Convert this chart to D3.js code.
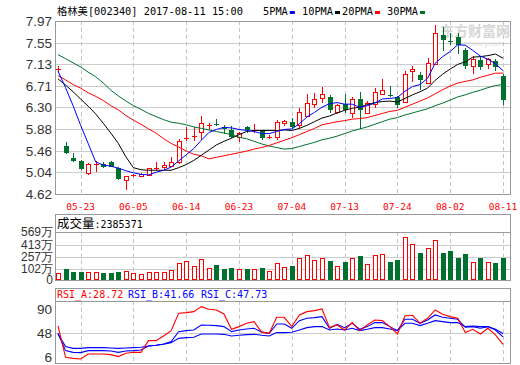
<!DOCTYPE html>
<html>
<head>
<meta charset="utf-8">
<script src="https://cdn.jsdelivr.net/npm/d3@7"></script>
<style>
  body { margin: 0; background: #fff; }
  svg { display: block; }
</style>
</head>
<body>
<svg id="chart" width="520" height="365"></svg>
<script>
// trading days shown (2017)
const dates = ["05-18","05-19","05-22","05-23","05-24","05-25","05-26","05-31","06-01","06-02",
  "06-05","06-06","06-07","06-08","06-09","06-12","06-13","06-14","06-15","06-16",
  "06-19","06-20","06-21","06-22","06-23","06-26","06-27","06-28","06-29","06-30",
  "07-03","07-04","07-05","07-06","07-07","07-10","07-11","07-12","07-13","07-14",
  "07-17","07-18","07-19","07-20","07-21","07-24","07-25","07-26","07-27","07-28",
  "07-31","08-01","08-02","08-03","08-04","08-07","08-08","08-09","08-10","08-11"];
const dateTicks = ["05-23","06-05","06-14","06-23","07-04","07-13","07-24","08-02","08-11"];

const open  = [7.02,5.55,5.32,5.26,5.03,5.19,5.20,5.24,5.13,4.89, 4.97,4.96,4.98,5.11,5.14,5.17,5.23,5.68,5.72,5.83,
               5.95,5.97,5.92,5.86,5.72,5.91,5.85,5.85,5.72,5.73, 5.99,6.01,5.96,6.14,6.36,6.47,6.50,6.21,6.37,6.18,
               6.45,6.18,6.37,6.55,6.54,6.50,6.40,7.00,6.92,6.76, 7.13,7.69,7.59,7.66,7.41,7.09,7.22,7.13,7.20,6.91];
const high  = [7.10,5.63,5.41,5.28,5.22,5.25,5.23,5.26,5.15,4.97, 5.01,5.03,5.13,5.24,5.23,5.33,5.69,5.91,5.91,6.13,
               6.00,6.07,5.95,5.94,5.83,5.94,5.98,5.86,5.76,6.05, 6.05,6.09,6.28,6.55,6.58,6.69,6.54,6.37,6.55,6.50,
               6.60,6.42,6.68,6.84,6.71,6.52,7.00,7.09,6.99,7.26, 7.89,7.85,7.74,7.74,7.45,7.29,7.29,7.26,7.23,6.94];
const low   = [6.96,5.40,5.23,5.09,4.99,5.05,5.13,5.14,4.90,4.69, 4.94,4.94,4.97,5.08,5.11,5.15,5.21,5.64,5.65,5.67,
               5.85,5.94,5.78,5.70,5.63,5.80,5.81,5.67,5.69,5.67, 5.94,5.89,5.87,6.13,6.28,6.39,6.18,6.16,6.18,6.10,
               5.87,6.16,6.29,6.54,6.50,6.28,6.39,6.79,6.63,6.76, 7.12,7.39,7.51,7.33,7.04,6.94,7.02,7.04,7.00,6.34];
const close = [7.04,5.42,5.25,5.10,5.21,5.20,5.14,5.15,4.91,4.96, 4.98,5.00,5.12,5.13,5.19,5.24,5.65,5.70,5.74,6.00,
               5.96,5.95,5.88,5.72,5.81,5.86,5.86,5.70,5.73,6.02, 6.04,5.92,6.21,6.39,6.45,6.55,6.24,6.34,6.24,6.45,
               6.24,6.38,6.60,6.63,6.52,6.34,6.95,7.05,6.83,7.15, 7.74,7.60,7.57,7.51,7.09,7.23,7.07,7.24,7.07,6.44];

// volume, in 万 shares
const volume = [47,101,68,68,64,64,51,51,68,76, 51,34,64,64,64,84,174,200,136,225,
                110,153,101,114,97,97,97,110,76,174, 123,136,238,276,212,238,204,136,191,238,
                268,161,276,289,191,217,505,416,306,365, 467,306,327,242,293,187,242,191,178,238.5];
const lastVolume = 2385371;

const ma5  = [7.00,6.68,6.33,5.95,5.60,5.24,5.18,5.16,5.12,5.07, 5.03,5.00,4.99,5.04,5.08,5.14,5.26,5.38,5.50,5.66,
              5.81,5.87,5.91,5.90,5.87,5.85,5.83,5.79,5.79,5.83, 5.87,5.88,5.98,6.11,6.20,6.30,6.37,6.39,6.36,6.36,
              6.30,6.33,6.38,6.46,6.47,6.49,6.61,6.70,6.74,6.86, 7.15,7.28,7.38,7.51,7.50,7.40,7.29,7.23,7.14,7.01];
const ma10 = [6.85,6.73,6.60,6.46,6.32,6.17,5.99,5.80,5.60,5.34, 5.13,5.09,5.08,5.08,5.08,5.08,5.13,5.19,5.27,5.37,
              5.47,5.57,5.64,5.70,5.77,5.83,5.85,5.85,5.85,5.85, 5.86,5.85,5.89,5.95,6.02,6.09,6.13,6.19,6.24,6.28,
              6.30,6.35,6.39,6.41,6.42,6.40,6.47,6.54,6.60,6.67, 6.82,6.94,7.04,7.13,7.18,7.27,7.28,7.30,7.33,7.25];
const ma20 = [6.91,6.83,6.74,6.67,6.58,6.51,6.43,6.33,6.25,6.14, 6.05,5.97,5.88,5.80,5.69,5.60,5.53,5.45,5.39,5.36,
              5.30,5.33,5.36,5.39,5.42,5.45,5.49,5.52,5.56,5.61, 5.66,5.71,5.77,5.83,5.89,5.96,5.99,6.02,6.04,6.07,
              6.08,6.10,6.14,6.18,6.22,6.24,6.30,6.36,6.42,6.48, 6.56,6.64,6.71,6.77,6.80,6.83,6.88,6.92,6.96,6.96];
const ma30 = [7.32,7.24,7.16,7.08,6.98,6.89,6.77,6.63,6.52,6.42, 6.33,6.26,6.18,6.12,6.06,6.01,5.99,5.96,5.92,5.89,
              5.86,5.83,5.80,5.77,5.72,5.69,5.64,5.59,5.55,5.52, 5.49,5.50,5.54,5.58,5.62,5.67,5.70,5.74,5.79,5.84,
              5.88,5.92,5.97,6.02,6.07,6.10,6.15,6.19,6.23,6.27, 6.33,6.38,6.44,6.50,6.54,6.59,6.63,6.68,6.72,6.74];

const rsiA = [60.8,6.0,4.2,3.1,11.8,11.8,11.8,10.7,7.2,13.0, 14.7,14.7,35.2,35.2,43.3,52.7,83.0,84.2,85.9,94.7,
              90.0,88.8,81.8,55.0,59.7,65.5,68.4,50.0,48.0,76.0, 76.0,59.7,80.1,85.9,87.7,90.6,57.9,62.6,53.8,66.7,
              52.7,62.6,71.3,70.2,59.7,46.8,78.3,79.5,65.5,74.3, 88.8,81.3,77.2,74.3,49.2,55.0,46.8,56.8,45.1,28.72];
const rsiB = [48.0,17.7,14.7,14.2,17.7,17.7,17.7,17.1,14.7,17.1, 17.7,18.8,25.8,27.0,29.3,33.4,50.9,52.7,53.8,62.6,
              62.0,61.4,59.7,50.9,53.8,55.6,56.8,50.0,48.0,64.3, 64.3,56.8,70.2,74.3,75.4,77.2,56.8,63.8,57.9,65.5,
              55.0,59.7,66.7,66.7,59.7,52.7,72.5,72.5,65.5,71.3, 80.1,76.0,74.3,72.5,58.5,59.7,56.8,59.7,53.8,41.66];
const rsiC = [47.0,24.7,21.7,21.7,22.9,22.9,22.9,22.3,21.7,22.3, 22.9,23.5,25.8,27.0,28.7,31.7,39.2,40.4,41.0,46.8,
              46.8,46.8,46.2,43.3,44.5,45.7,46.2,44.5,43.3,49.2, 49.2,49.8,53.8,57.9,59.7,59.7,53.8,55.6,53.8,56.8,
              52.7,55.0,57.9,57.9,55.6,52.7,65.5,65.5,61.4,65.5, 70.2,68.4,66.7,66.7,59.7,60.8,59.7,59.7,55.0,47.73];

const priceTicks = [7.97,7.55,7.13,6.71,6.30,5.88,5.46,5.04,4.62];
const volTicks = [0,102,257,413,569];
const rsiTicks = [6,48,90];

const RED = "#ff0000", GREEN = "#00702f", BLUE = "#0000ff";
const MONO = "'DejaVu Sans Mono','Noto Sans CJK SC',monospace";
const SANS = "'Liberation Sans',Arial,sans-serif";

const svg = d3.select("#chart");
const L = 56, R = 510;
const main = {top: 21, bottom: 194};
const vol = {top: 214, head: 232.3, bottom: 280};
const rsi = {top: 288, head: 301, bottom: 363};

const x = d3.scalePoint().domain(dates).range([58, 503]);
const yP = d3.scaleLinear().domain([4.62, 7.97]).range([main.bottom, main.top]);
const yV = d3.scaleLinear().domain([0, 569]).range([277, vol.head]);
const yR = d3.scaleLinear().domain([6, 90]).range([357.3, 309.3]);

const px = v => Math.round(v) + 0.5;

// ---- grids ----
function vGrid(y0, y1) {
  svg.append("g").selectAll("line").data(dateTicks).join("line")
    .attr("x1", d => px(x(d))).attr("x2", d => px(x(d)))
    .attr("y1", y0).attr("y2", y1)
    .attr("stroke", "#c4c4c4").attr("stroke-dasharray", "4,3");
}
function hGrid(vals, scale) {
  svg.append("g").selectAll("line").data(vals).join("line")
    .attr("x1", L).attr("x2", R)
    .attr("y1", d => px(scale(d))).attr("y2", d => px(scale(d)))
    .attr("stroke", "#cccccc");
}
hGrid(priceTicks.slice(1, -1), yP);
vGrid(main.top, main.bottom);
hGrid(volTicks.slice(1, -1), yV);
vGrid(vol.head, vol.bottom);
hGrid([48], yR);
vGrid(rsi.head, rsi.bottom);

// ---- watermark ----
svg.append("text").attr("x", 440).attr("y", 36)
  .attr("font-family", "'Noto Sans CJK SC'").attr("font-size", 14).attr("font-weight", "bold")
  .attr("fill", "#d6d6d6").text("东方财富网");
svg.append("text").attr("x", 454).attr("y", 46)
  .attr("font-family", SANS).attr("font-size", 7).attr("font-style", "italic")
  .attr("fill", "#dddddd").text("eastmoney.com");

// ---- candles ----
const cands = dates.map((d, i) => ({d, o: open[i], h: high[i], l: low[i], c: close[i], v: volume[i], up: close[i] >= open[i]}));

const cg = svg.append("g");
cands.forEach(k => {
  const cx = Math.round(x(k.d));
  const col = k.up ? RED : GREEN;
  const yTop = Math.round(yP(Math.max(k.o, k.c)));
  const yBot = Math.round(yP(Math.min(k.o, k.c)));
  const yH = Math.round(yP(k.h)), yL = Math.round(yP(k.l));
  if (k.up) {
    if (yBot - yTop < 2) {
      cg.append("line").attr("x1", cx + 0.5).attr("x2", cx + 0.5).attr("y1", yH).attr("y2", yL).attr("stroke", col);
      cg.append("line").attr("x1", cx - 2).attr("x2", cx + 3).attr("y1", yTop + 0.5).attr("y2", yTop + 0.5).attr("stroke", col);
    } else {
      cg.append("line").attr("x1", cx + 0.5).attr("x2", cx + 0.5).attr("y1", yH).attr("y2", yTop).attr("stroke", col);
      cg.append("line").attr("x1", cx + 0.5).attr("x2", cx + 0.5).attr("y1", yBot).attr("y2", yL).attr("stroke", col);
      cg.append("rect").attr("x", cx - 1.5).attr("y", yTop + 0.5).attr("width", 4).attr("height", yBot - yTop)
        .attr("fill", "#fff").attr("stroke", col);
    }
  } else {
    cg.append("line").attr("x1", cx + 0.5).attr("x2", cx + 0.5).attr("y1", yH).attr("y2", yL).attr("stroke", col);
    cg.append("rect").attr("x", cx - 2).attr("y", yTop).attr("width", 5).attr("height", Math.max(yBot - yTop, 1))
      .attr("fill", col);
  }
});

// ---- moving averages ----
const maLine = d3.line().x((d, i) => x(dates[i])).y(d => yP(d));
[[ma30, GREEN], [ma20, RED], [ma10, "#000"], [ma5, BLUE]].forEach(([s, c]) => {
  svg.append("path").attr("d", maLine(s)).attr("fill", "none").attr("stroke", c).attr("stroke-width", 1);
});

// ---- volume bars ----
const vg = svg.append("g");
cands.forEach(k => {
  const cx = Math.round(x(k.d));
  const yt = Math.round(yV(k.v));
  if (k.up) {
    vg.append("rect").attr("x", cx - 1.5).attr("y", yt + 0.5).attr("width", 4).attr("height", vol.bottom - yt - 1)
      .attr("fill", "#fff").attr("stroke", RED);
  } else {
    vg.append("rect").attr("x", cx - 2).attr("y", yt).attr("width", 5).attr("height", vol.bottom - yt).attr("fill", GREEN);
  }
});

// ---- RSI lines ----
const rLine = d3.line().x((d, i) => x(dates[i])).y(d => yR(d));
[[rsiC, BLUE], [rsiB, BLUE], [rsiA, RED]].forEach(([s, c]) => {
  svg.append("path").attr("d", rLine(s)).attr("fill", "none").attr("stroke", c).attr("stroke-width", 1.1);
});

// ---- frames ----
function frame(t, b) {
  svg.append("rect").attr("x", L - 0.5).attr("y", t + 0.5).attr("width", R - L + 1).attr("height", b - t)
    .attr("fill", "none").attr("stroke", "#999");
}
frame(main.top, main.bottom);
frame(vol.top, vol.bottom);
frame(rsi.top, rsi.bottom);
[vol.head, rsi.head].forEach(h => svg.append("line").attr("x1", L).attr("x2", R)
  .attr("y1", px(h)).attr("y2", px(h)).attr("stroke", "#999"));

// ---- axis labels ----
svg.append("g").selectAll("text").data(priceTicks).join("text")
  .attr("x", 52).attr("y", d => yP(d) + 5).attr("text-anchor", "end")
  .attr("font-family", SANS).attr("font-size", 13.5).attr("fill", "#333")
  .text(d => d.toFixed(2));

// "0" sits on the panel floor, the others on their grid lines
svg.append("g").selectAll("text").data(volTicks).join("text")
  .attr("x", 53).attr("y", d => (d === 0 ? vol.bottom : yV(d)) + 4).attr("text-anchor", "end")
  .attr("font-family", SANS).attr("font-size", 12).attr("fill", "#333")
  .text(d => d === 0 ? "0" : d + "万");

svg.append("g").selectAll("text").data(rsiTicks).join("text")
  .attr("x", 52).attr("y", d => yR(d) + 5).attr("text-anchor", "end")
  .attr("font-family", SANS).attr("font-size", 13.5).attr("fill", "#333")
  .text(d => d);

svg.append("g").selectAll("text").data(dateTicks).join("text")
  .attr("x", d => x(d)).attr("y", 209.5).attr("text-anchor", "middle")
  .attr("font-family", MONO).attr("font-size", 9.5).attr("fill", RED)
  .text(d => d);

// ---- header ----
svg.append("text").attr("x", 57).attr("y", 14.5)
  .attr("font-family", MONO).attr("font-size", 10.3).attr("fill", "#000")
  .text("格林美[002340] 2017-08-11 15:00");

const legend = [["5PMA", BLUE, 263], ["10PMA", "#000", 302], ["20PMA", RED, 342], ["30PMA", GREEN, 387]];
legend.forEach(([t, c, lx]) => {
  const tx = svg.append("text").attr("x", lx).attr("y", 14.5)
    .attr("font-family", MONO).attr("font-size", 10.3).attr("fill", "#000").text(t);
  const w = tx.node().getComputedTextLength();
  svg.append("rect").attr("x", lx + w + 2).attr("y", 11).attr("width", 5).attr("height", 3).attr("fill", c);
});

const vt = svg.append("text").attr("x", 57).attr("y", 227.5).attr("fill", "#000");
vt.append("tspan").attr("font-family", "'Noto Sans CJK SC'").attr("font-size", 12.5).text("成交量");
vt.append("tspan").attr("font-family", MONO).attr("font-size", 10).text(":" + lastVolume);

const rt = svg.append("text").attr("y", 298).attr("font-family", MONO).attr("font-size", 10);
rt.append("tspan").attr("x", 57).attr("fill", RED).text("RSI_A:" + rsiA[rsiA.length - 1].toFixed(2));
rt.append("tspan").attr("x", 128).attr("fill", BLUE).text("RSI_B:" + rsiB[rsiB.length - 1].toFixed(2));
rt.append("tspan").attr("x", 201).attr("fill", BLUE).text("RSI_C:" + rsiC[rsiC.length - 1].toFixed(2));
</script>
</body>
</html>
